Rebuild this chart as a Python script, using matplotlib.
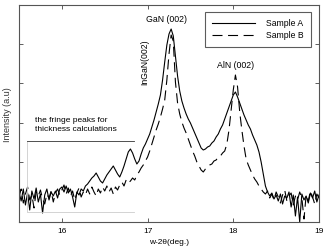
import matplotlib
matplotlib.use("Agg")
import matplotlib.pyplot as plt
import numpy as np

plt.rcParams['font.family'] = ['Liberation Sans', 'DejaVu Sans']

# Scan-Achse (w-2theta, Schritt 0.025 grad)
two_theta = np.linspace(15.5, 19.0, 141)

# Sample A (durchgezogen)
sample_a = [30, 21, 33, 17, 29, 12, 31, 23, 34, 20, 28, 9, 27, 33, 22, 30, 26, 31, 24, 33,
            35, 30, 36, 29, 33, 25, 15, 30, 27, 33, 31, 36, 38, 41, 44, 46, 49, 45, 41, 39,
            43, 47, 50, 53, 56, 52, 48, 45, 50, 56, 63, 70, 73, 69, 63, 58, 61, 68, 74, 78,
            83, 88, 95, 102, 110, 118, 127, 142, 160, 177, 188, 193, 186, 166, 146, 131, 121, 114, 108, 103,
            99, 94, 89, 84, 79, 74, 72, 73, 75, 76, 79, 81, 85, 88, 93, 97, 103, 109, 115, 121,
            127, 130, 125, 119, 113, 107, 102, 97, 93, 87, 82, 77, 70, 60, 48, 36, 30, 26, 29, 23,
            27, 21, 28, 18, 26, 24, 30, 15, 27, 6, 25, 0, 28, 22, 26, 19, 29, 24, 31, 20, 27]

# Sample B (gestrichelt)
sample_b = [25, 33, 19, 28, 35, 22, 27, 14, 30, 26, 32, 23, 18, 28, 24, 31, 20, 29, 33, 27,
            32, 37, 28, 34, 26, 31, 22, 29, 34, 25, 30, 27, 33, 28, 35, 30, 26, 33, 29, 35,
            31, 36, 30, 34, 28, 35, 32, 37, 40, 36, 42, 39, 41, 44, 42, 47, 50, 54, 57, 61,
            65, 71, 78, 85, 92, 98, 105, 113, 122, 142, 168, 187, 181, 140, 119, 108, 100, 94, 89, 83,
            77, 71, 66, 60, 56, 52, 50, 53, 55, 57, 58, 61, 62, 65, 66, 69, 71, 78, 92, 112,
            132, 147, 135, 110, 92, 76, 63, 57, 52, 47, 43, 40, 36, 33, 30, 28, 31, 24, 28, 22,
            30, 25, 19, 27, 32, 21, 26, 29, 17, 26, 22, 30, 24, 3, 27, 21, 31, 25, 18, 28, 24]

x_ticks = [16, 17, 18, 19]
y_ticks = [60, 99, 139, 178]

fig = plt.figure(figsize=(3.25, 2.5), dpi=100)
ax = fig.add_axes([0.0585, 0.112, 0.923, 0.868])

ax.plot(two_theta, sample_a, color="black", lw=0.8, label="Sample A")
ax.plot(two_theta, sample_b, color="black", lw=0.8, dashes=(9, 5), label="Sample B")

ax.set_xlim(15.5, 19.0)
ax.set_ylim(0, 217)
ax.set_xticks(x_ticks)
ax.set_yticks(y_ticks)
ax.set_yticklabels([])
ax.tick_params(direction="in", top=True, right=True, length=3, width=0.6,
               labelsize=6, pad=4, color="#444444")
for s in ax.spines.values():
    s.set_color("#555555")
    s.set_linewidth(0.8)

ax.set_xlabel("w-2θ(deg.)", fontsize=6, labelpad=3)
fig.text(8 / 325, 0.54, "Intensity (a.u)", fontsize=6.5, rotation=90, ha="center", va="center",
         color="#333333")

# Beschriftungen der Peaks
ax.text(17.22, 202, "GaN (002)", fontsize=6.3, ha="center", va="center")
ax.text(18.03, 156, "AlN (002)", fontsize=6.3, ha="center", va="center")
ax.text(16.97, 160, "InGaN(002)", fontsize=6.2, ha="center", va="center", rotation=90)
ax.text(15.685, 97, "the fringe peaks for\nthickness calculations", fontsize=6,
        ha="left", va="center", linespacing=1.25)

# Rahmen um die Fringe-Peaks
ax.plot([15.59, 15.59, 16.84], [81, 10, 10], color="#cccccc", lw=0.6)
ax.plot([15.59, 16.84], [81, 81], color="#333333", lw=0.6)

leg = ax.legend(loc="upper right", bbox_to_anchor=(0.973, 0.968), borderaxespad=0,
                fontsize=6.2, handlelength=5.0, handletextpad=1.3, fancybox=False,
                frameon=True, borderpad=0.8, labelspacing=0.35)
leg.get_frame().set_edgecolor("#333333")
leg.get_frame().set_linewidth(0.8)

fig.savefig("out.png", dpi=100)
